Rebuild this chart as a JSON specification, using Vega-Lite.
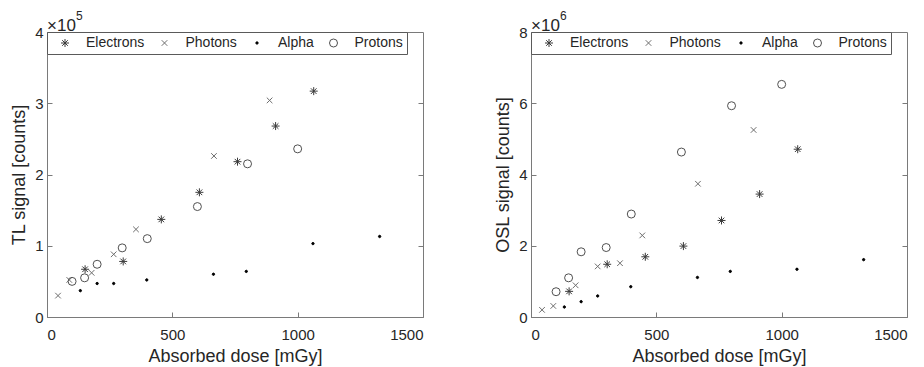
{
  "$schema": "https://vega.github.io/schema/vega-lite/v6.json",
  "padding": {"left": 10, "top": 9, "right": 5, "bottom": 0},
  "background": "white",
  "config": {
    "font": "Liberation Sans",
    "view": {"stroke": "#7a7a7a", "strokeWidth": 1},
    "axis": {"grid": false, "domainColor": "#7a7a7a", "tickColor": "#7a7a7a", "tickSize": -5, "labelFontSize": 15, "labelColor": "#262626", "titleFontSize": 18, "titleFontWeight": "normal", "titleColor": "#262626"},
    "axisX": {"labelPadding": 15, "titlePadding": 5, "format": "d"},
    "axisY": {"labelPadding": 9, "titlePadding": 6},
    "title": {"fontSize": 17, "fontWeight": "normal", "color": "#262626", "anchor": "start", "frame": "group", "offset": -25}
  },
  "datasets": {
    "tl": [
      {"type": "Electrons", "dose": 152, "signal": 67000},
      {"type": "Electrons", "dose": 304, "signal": 78000},
      {"type": "Electrons", "dose": 456, "signal": 137000},
      {"type": "Electrons", "dose": 608, "signal": 175000},
      {"type": "Electrons", "dose": 760, "signal": 218000},
      {"type": "Electrons", "dose": 912, "signal": 268000},
      {"type": "Electrons", "dose": 1064, "signal": 317000},
      {"type": "Photons", "dose": 44, "signal": 30000},
      {"type": "Photons", "dose": 89, "signal": 52000},
      {"type": "Photons", "dose": 178, "signal": 62000},
      {"type": "Photons", "dose": 266, "signal": 88000},
      {"type": "Photons", "dose": 355, "signal": 123000},
      {"type": "Photons", "dose": 666, "signal": 226000},
      {"type": "Photons", "dose": 888, "signal": 304000},
      {"type": "Alpha", "dose": 133, "signal": 37000},
      {"type": "Alpha", "dose": 200, "signal": 47000},
      {"type": "Alpha", "dose": 266, "signal": 47000},
      {"type": "Alpha", "dose": 398, "signal": 52000},
      {"type": "Alpha", "dose": 664, "signal": 60000},
      {"type": "Alpha", "dose": 795, "signal": 64000},
      {"type": "Alpha", "dose": 1061, "signal": 103000},
      {"type": "Alpha", "dose": 1327, "signal": 113000},
      {"type": "Protons", "dose": 100, "signal": 50000},
      {"type": "Protons", "dose": 150, "signal": 55000},
      {"type": "Protons", "dose": 200, "signal": 74000},
      {"type": "Protons", "dose": 300, "signal": 97000},
      {"type": "Protons", "dose": 400, "signal": 110000},
      {"type": "Protons", "dose": 600, "signal": 155000},
      {"type": "Protons", "dose": 800, "signal": 215000},
      {"type": "Protons", "dose": 1000, "signal": 236000}
    ],
    "osl": [
      {"type": "Electrons", "dose": 152, "signal": 720000},
      {"type": "Electrons", "dose": 304, "signal": 1480000},
      {"type": "Electrons", "dose": 456, "signal": 1690000},
      {"type": "Electrons", "dose": 608, "signal": 1990000},
      {"type": "Electrons", "dose": 760, "signal": 2710000},
      {"type": "Electrons", "dose": 912, "signal": 3450000},
      {"type": "Electrons", "dose": 1064, "signal": 4710000},
      {"type": "Photons", "dose": 44, "signal": 200000},
      {"type": "Photons", "dose": 89, "signal": 310000},
      {"type": "Photons", "dose": 178, "signal": 890000},
      {"type": "Photons", "dose": 266, "signal": 1420000},
      {"type": "Photons", "dose": 355, "signal": 1510000},
      {"type": "Photons", "dose": 444, "signal": 2290000},
      {"type": "Photons", "dose": 666, "signal": 3740000},
      {"type": "Photons", "dose": 888, "signal": 5250000},
      {"type": "Alpha", "dose": 133, "signal": 280000},
      {"type": "Alpha", "dose": 200, "signal": 430000},
      {"type": "Alpha", "dose": 266, "signal": 590000},
      {"type": "Alpha", "dose": 398, "signal": 850000},
      {"type": "Alpha", "dose": 664, "signal": 1110000},
      {"type": "Alpha", "dose": 795, "signal": 1280000},
      {"type": "Alpha", "dose": 1061, "signal": 1340000},
      {"type": "Alpha", "dose": 1327, "signal": 1610000},
      {"type": "Protons", "dose": 100, "signal": 710000},
      {"type": "Protons", "dose": 150, "signal": 1100000},
      {"type": "Protons", "dose": 200, "signal": 1830000},
      {"type": "Protons", "dose": 300, "signal": 1950000},
      {"type": "Protons", "dose": 400, "signal": 2890000},
      {"type": "Protons", "dose": 600, "signal": 4630000},
      {"type": "Protons", "dose": 800, "signal": 5930000},
      {"type": "Protons", "dose": 1000, "signal": 6530000}
    ],
    "exp5": [{"exp": "5", "dose": 0, "signal": 400000}],
    "exp6": [{"exp": "6", "dose": 0, "signal": 8000000}]
  },
  "spacing": 108,
  "bounds": "flush",
  "hconcat": [
    {
      "width": 376, "height": 285,
      "title": {"text": "×10"},
      "layer": [
        {
          "data": {"name": "tl"},
          "mark": {"type": "point", "filled": false, "size": 64, "strokeWidth": 1, "opacity": 1},
          "encoding": {
            "x": {"field": "dose", "type": "quantitative", "scale": {"domain": [0, 1500], "nice": false}, "axis": {"values": [0, 500, 1000, 1500], "title": "Absorbed dose [mGy]"}},
            "y": {"field": "signal", "type": "quantitative", "scale": {"domain": [0, 400000], "nice": false}, "axis": {"values": [0, 100000, 200000, 300000, 400000], "labelExpr": "format(datum.value/1e5,'d')", "title": "TL signal [counts]"}},
            "shape": {"field": "type", "type": "nominal", "scale": {"domain": ["Electrons", "Photons", "Alpha", "Protons"], "range": ["M-1,0L1,0M0,-1L0,1M-0.7,-0.7L0.7,0.7M-0.7,0.7L0.7,-0.7", "M-0.7,-0.7L0.7,0.7M-0.7,0.7L0.7,-0.7", "M-0.3,0A0.3,0.3,0,1,0,0.3,0A0.3,0.3,0,1,0,-0.3,0", "circle"]},
              "legend": {"orient": "none", "legendX": 0, "legendY": 0, "direction": "horizontal", "title": null, "fillColor": "white", "strokeColor": "#5a5a5a", "padding": 4, "symbolOffset": 7, "labelOffset": 14, "columnPadding": 5.5, "labelFontSize": 14, "labelColor": "#262626", "symbolSize": 64, "symbolStrokeWidth": 1}},
            "color": {"field": "type", "type": "nominal", "scale": {"domain": ["Electrons", "Photons", "Alpha", "Protons"], "range": ["#3a3a3a", "#6e6e6e", "#000000", "#505050"]},
              "legend": {"orient": "none", "legendX": 0, "legendY": 0, "direction": "horizontal", "title": null, "fillColor": "white", "strokeColor": "#5a5a5a", "padding": 4, "symbolOffset": 7, "labelOffset": 14, "columnPadding": 5.5, "labelFontSize": 14, "labelColor": "#262626", "symbolSize": 64, "symbolStrokeWidth": 1}},
            "fill": {"field": "type", "type": "nominal", "scale": {"domain": ["Electrons", "Photons", "Alpha", "Protons"], "range": ["transparent", "transparent", "#000000", "transparent"]},
              "legend": {"orient": "none", "legendX": 0, "legendY": 0, "direction": "horizontal", "title": null, "fillColor": "white", "strokeColor": "#5a5a5a", "padding": 4, "symbolOffset": 7, "labelOffset": 14, "columnPadding": 5.5, "labelFontSize": 14, "labelColor": "#262626", "symbolSize": 64, "symbolStrokeWidth": 1}}
          }
        },
        {
          "data": {"name": "tl"},
          "mark": {"type": "point", "opacity": 0},
          "encoding": {
            "x": {"field": "dose", "type": "quantitative"},
            "y": {"field": "signal", "type": "quantitative", "axis": {"orient": "right", "labels": false, "title": null, "domain": false, "values": [100000, 200000, 300000]}}
          }
        },
        {
          "data": {"name": "exp5"},
          "mark": {"type": "text", "fontSize": 12, "color": "#262626", "align": "left", "baseline": "alphabetic", "dx": 29, "dy": -12},
          "encoding": {
            "x": {"field": "dose", "type": "quantitative"},
            "y": {"field": "signal", "type": "quantitative", "axis": null},
            "text": {"field": "exp"}
          }
        }
      ],
      "resolve": {"axis": {"y": "independent"}}
    },
    {
      "width": 376, "height": 285,
      "title": {"text": "×10"},
      "layer": [
        {
          "data": {"name": "osl"},
          "mark": {"type": "point", "filled": false, "size": 64, "strokeWidth": 1, "opacity": 1},
          "encoding": {
            "x": {"field": "dose", "type": "quantitative", "scale": {"domain": [0, 1500], "nice": false}, "axis": {"values": [0, 500, 1000, 1500], "title": "Absorbed dose [mGy]"}},
            "y": {"field": "signal", "type": "quantitative", "scale": {"domain": [0, 8000000], "nice": false}, "axis": {"values": [0, 2000000, 4000000, 6000000, 8000000], "labelExpr": "format(datum.value/1e6,'d')", "title": "OSL signal [counts]"}},
            "shape": {"field": "type", "type": "nominal", "scale": {"domain": ["Electrons", "Photons", "Alpha", "Protons"], "range": ["M-1,0L1,0M0,-1L0,1M-0.7,-0.7L0.7,0.7M-0.7,0.7L0.7,-0.7", "M-0.7,-0.7L0.7,0.7M-0.7,0.7L0.7,-0.7", "M-0.3,0A0.3,0.3,0,1,0,0.3,0A0.3,0.3,0,1,0,-0.3,0", "circle"]},
              "legend": {"orient": "none", "legendX": 0, "legendY": 0, "direction": "horizontal", "title": null, "fillColor": "white", "strokeColor": "#5a5a5a", "padding": 4, "symbolOffset": 7, "labelOffset": 14, "columnPadding": 5.5, "labelFontSize": 14, "labelColor": "#262626", "symbolSize": 64, "symbolStrokeWidth": 1}},
            "color": {"field": "type", "type": "nominal", "scale": {"domain": ["Electrons", "Photons", "Alpha", "Protons"], "range": ["#3a3a3a", "#6e6e6e", "#000000", "#505050"]},
              "legend": {"orient": "none", "legendX": 0, "legendY": 0, "direction": "horizontal", "title": null, "fillColor": "white", "strokeColor": "#5a5a5a", "padding": 4, "symbolOffset": 7, "labelOffset": 14, "columnPadding": 5.5, "labelFontSize": 14, "labelColor": "#262626", "symbolSize": 64, "symbolStrokeWidth": 1}},
            "fill": {"field": "type", "type": "nominal", "scale": {"domain": ["Electrons", "Photons", "Alpha", "Protons"], "range": ["transparent", "transparent", "#000000", "transparent"]},
              "legend": {"orient": "none", "legendX": 0, "legendY": 0, "direction": "horizontal", "title": null, "fillColor": "white", "strokeColor": "#5a5a5a", "padding": 4, "symbolOffset": 7, "labelOffset": 14, "columnPadding": 5.5, "labelFontSize": 14, "labelColor": "#262626", "symbolSize": 64, "symbolStrokeWidth": 1}}
          }
        },
        {
          "data": {"name": "osl"},
          "mark": {"type": "point", "opacity": 0},
          "encoding": {
            "x": {"field": "dose", "type": "quantitative"},
            "y": {"field": "signal", "type": "quantitative", "axis": {"orient": "right", "labels": false, "title": null, "domain": false, "values": [2000000, 4000000, 6000000]}}
          }
        },
        {
          "data": {"name": "exp6"},
          "mark": {"type": "text", "fontSize": 12, "color": "#262626", "align": "left", "baseline": "alphabetic", "dx": 29, "dy": -12},
          "encoding": {
            "x": {"field": "dose", "type": "quantitative"},
            "y": {"field": "signal", "type": "quantitative", "axis": null},
            "text": {"field": "exp"}
          }
        }
      ],
      "resolve": {"axis": {"y": "independent"}}
    }
  ],
  "resolve": {"scale": {"shape": "independent", "color": "independent", "fill": "independent"}}
}
